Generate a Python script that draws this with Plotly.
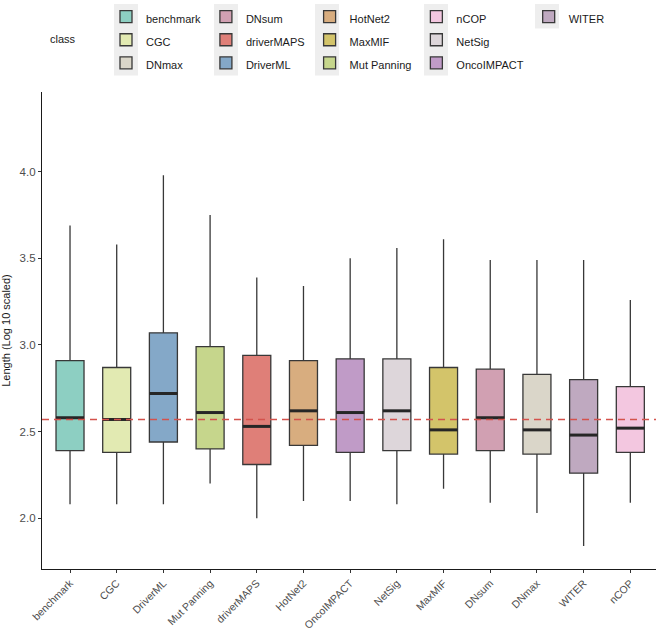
import plotly.graph_objects as go

# ---- data (x-axis order) ----
methods = ["benchmark", "CGC", "DriverML", "Mut Panning", "driverMAPS", "HotNet2",
           "OncoIMPACT", "NetSig", "MaxMIF", "DNsum", "DNmax", "WITER", "nCOP"]
upper_whisker = [3.69, 3.58, 3.98, 3.75, 3.39, 3.34, 3.50, 3.56, 3.61, 3.49, 3.49, 3.49, 3.26]
q3_vals       = [2.91, 2.87, 3.07, 2.99, 2.94, 2.91, 2.92, 2.92, 2.87, 2.86, 2.83, 2.80, 2.76]
median_vals   = [2.58, 2.57, 2.72, 2.61, 2.53, 2.62, 2.61, 2.62, 2.51, 2.58, 2.51, 2.48, 2.52]
q1_vals       = [2.39, 2.38, 2.44, 2.40, 2.31, 2.42, 2.38, 2.39, 2.37, 2.39, 2.37, 2.26, 2.38]
lower_whisker = [2.08, 2.08, 2.08, 2.20, 2.00, 2.10, 2.10, 2.08, 2.17, 2.09, 2.03, 1.84, 2.09]
reference_line = 2.57

# legend order (ggplot factor levels)
legend_order = ["benchmark", "CGC", "DNmax", "DNsum", "driverMAPS", "DriverML", "HotNet2",
                "MaxMIF", "Mut Panning", "nCOP", "NetSig", "OncoIMPACT", "WITER"]
colors = {
    "benchmark": "#8dcfc2", "CGC": "#e2eab2", "DriverML": "#84a8c8", "Mut Panning": "#c6d68c",
    "driverMAPS": "#df7f78", "HotNet2": "#d8ad7f", "OncoIMPACT": "#c09bc7", "NetSig": "#ddd6da",
    "MaxMIF": "#d3c46a", "DNsum": "#d1a0b2", "DNmax": "#dad6c9", "WITER": "#bfa9c0",
    "nCOP": "#f3c7e0",
}

W, H = 666, 631
L, T, B, R = 42, 92, 569, 656
box_w = 0.6

fig = go.Figure()

for k, name in enumerate(legend_order):
    i = methods.index(name)
    fig.add_trace(go.Box(
        x=[i], q1=[q1_vals[i]], median=[median_vals[i]], q3=[q3_vals[i]],
        lowerfence=[lower_whisker[i]], upperfence=[upper_whisker[i]],
        width=box_w, whiskerwidth=0, fillcolor=colors[name],
        line=dict(color="#383838", width=1.3),
        name=f'<span style="font-size:11px">{name}</span>',
        boxpoints=False, hoverinfo="skip", legendgroup=f"col{k // 3}",
    ))

# thick median bars
mx, my = [], []
for i, m in enumerate(median_vals):
    mx += [i - box_w / 2, i + box_w / 2, None]
    my += [m, m, None]
fig.add_trace(go.Scatter(x=mx, y=my, mode="lines", line=dict(color="#262626", width=3),
                         showlegend=False, hoverinfo="skip"))


def px_x(p):
    return (p - L) / (R - L)


def px_y(p):
    return (B - p) / (B - T)


# light-gray legend key backgrounds (one column strip per legend column)
key_cols = [126, 226, 327, 436, 547]
shapes = []
for c, kx in enumerate(key_cols):
    nrows = min(3, len(legend_order) - 3 * c)
    shapes.append(dict(type="rect", xref="paper", yref="paper", layer="below",
                       x0=px_x(kx - 12), x1=px_x(kx + 12),
                       y0=px_y(5 + 23.5 * nrows), y1=px_y(4),
                       fillcolor="#eeeeee", line=dict(width=0)))
shapes.append(dict(type="line", xref="paper", yref="y", x0=0, x1=1,
                   y0=reference_line, y1=reference_line,
                   line=dict(color="#d4524c", width=1.5, dash="7px,5px")))

fig.update_layout(
    width=W, height=H,
    margin=dict(l=L, r=W - R, t=T, b=H - B),
    paper_bgcolor="white", plot_bgcolor="white",
    boxmode="overlay",
    font=dict(family="Liberation Sans, Arial", size=11, color="#4d4d4d"),
    shapes=shapes,
    legend=dict(orientation="h", traceorder="grouped", xref="container", yref="container",
                x=106 / W, y=1.0, xanchor="left", yanchor="top",
                font=dict(size=15.5, color="#1a1a1a"), tracegroupgap=0,
                itemclick=False, itemdoubleclick=False, bgcolor="rgba(0,0,0,0)"),
    annotations=[dict(text="class", xref="paper", yref="paper", xanchor="center",
                      yanchor="middle", x=px_x(63), y=px_y(39), showarrow=False,
                      font=dict(size=11, color="#1a1a1a"))],
)
fig.update_xaxes(
    range=[-0.6, 12.55], tickmode="array", tickvals=list(range(len(methods))), ticktext=methods,
    tickangle=-45, showline=True, linecolor="#1a1a1a", linewidth=1.2,
    ticks="outside", ticklen=3, tickcolor="#333333", showgrid=False, zeroline=False,
    tickfont=dict(size=10.5, color="#4d4d4d"), automargin=False,
)
fig.update_yaxes(
    range=[1.707, 4.46], tickmode="array", tickvals=[2.0, 2.5, 3.0, 3.5, 4.0],
    ticktext=["2.0", "2.5", "3.0", "3.5", "4.0"],
    showline=True, linecolor="#1a1a1a", linewidth=1.2,
    ticks="outside", ticklen=3, tickcolor="#333333", showgrid=False, zeroline=False,
    tickfont=dict(size=11.5, color="#4d4d4d"),
    title=dict(text="Length (Log 10 scaled)", font=dict(size=11, color="#1a1a1a"), standoff=6),
    automargin=False,
)

fig.write_html("out.html", config={"displayModeBar": False},
               post_script="document.body.style.margin='0';")
